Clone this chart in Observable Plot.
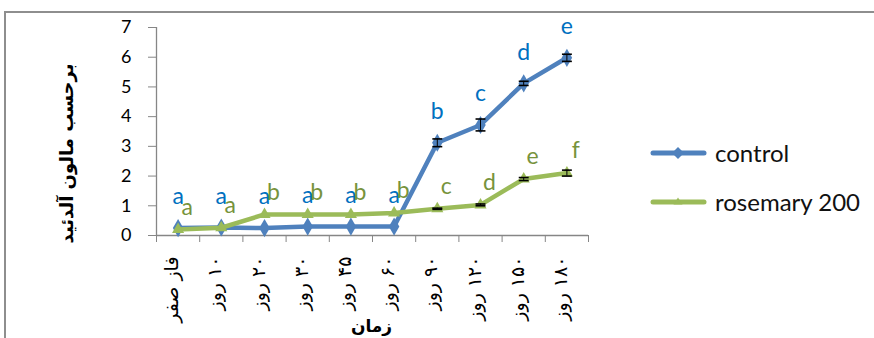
<!DOCTYPE html>
<html>
<head>
<meta charset="utf-8">
<script src="https://cdn.jsdelivr.net/npm/d3@7"></script>
<script src="https://cdn.jsdelivr.net/npm/@observablehq/plot@0.6"></script>
<style>
  html, body { margin: 0; padding: 0; background: #fff; }
  #chart { position: relative; width: 874px; height: 338px; overflow: hidden; background: #fff; }
  #frame { position: absolute; left: 4px; top: 11px; width: 2000px; height: 2000px;
           border-left: 2px solid #8e8e8e; border-top: 2px solid #8e8e8e; pointer-events: none; }
  #legend { position: absolute; left: 650px; top: 0; font-family: Lato, "Open Sans", sans-serif; font-size: 24px; color: #111; }
  .item { position: absolute; left: 0; display: flex; align-items: center; white-space: nowrap; }
  .item svg { display: block; margin-right: 7px; }
</style>
</head>
<body>
<div id="chart"><div id="frame"></div></div>
<script>
// Sampling times (x categories)
const days = ["فاز صفر", "۱۰ روز", "۲۰ روز", "۳۰ روز", "۴۵ روز", "۶۰ روز", "۹۰ روز", "۱۲۰ روز", "۱۵۰ روز", "۱۸۰ روز"];

// Series values
const control = [0.25, 0.27, 0.25, 0.30, 0.30, 0.30, 3.12, 3.72, 5.12, 5.98];
const rosemary = [0.20, 0.26, 0.71, 0.71, 0.71, 0.76, 0.90, 1.03, 1.90, 2.10];

// Standard errors (0 = no visible bar)
const controlErr = [0, 0, 0, 0, 0, 0, 0.13, 0.20, 0.07, 0.12];
const rosemaryErr = [0, 0, 0, 0, 0, 0, 0.02, 0.03, 0.05, 0.10];

// Significance letters
const controlGroups = ["a", "a", "a", "a", "a", "a", "b", "c", "d", "e"];
const rosemaryGroups = ["a", "a", "b", "b", "b", "b", "c", "d", "e", "f"];

// Axis ticks and titles
const yTicks = [0, 1, 2, 3, 4, 5, 6, 7];
const yTitle = "برحسب مالون آلدئید";
const xTitle = "زمان";
const seriesNames = ["control", "rosemary 200"];

const blue = "#4f81bd";
const green = "#9bbb59";
const axisGray = "#868686";
const latin = "Lato, 'Open Sans', sans-serif";
const arabic = "'DejaVu Sans', sans-serif";
const RLM = "\u200F"; // keeps the day number on the reading-start side

const rows = days.map((day, i) => ({
  i, day,
  control: control[i], controlErr: controlErr[i], controlGroup: controlGroups[i],
  rosemary: rosemary[i], rosemaryErr: rosemaryErr[i], rosemaryGroup: rosemaryGroups[i]
}));
const controlBars = rows.filter(d => d.controlErr > 0);
const rosemaryBars = rows.filter(d => d.rosemaryErr > 0);

// horizontal cap for error bars
const cap = {draw(ctx, size) { const w = Math.sqrt(size); ctx.moveTo(-w, 0); ctx.lineTo(w, 0); }};

const boundaries = d3.range(-0.5, days.length, 1);

function errorBars(data, key, errKey) {
  return [
    Plot.ruleX(data, {x: "i", y1: d => d[key] - d[errKey], y2: d => d[key] + d[errKey], stroke: "#000", strokeWidth: 1}),
    Plot.dot(data, {x: "i", y: d => d[key] - d[errKey], symbol: cap, r: 2.8, stroke: "#000", strokeWidth: 1.6}),
    Plot.dot(data, {x: "i", y: d => d[key] + d[errKey], symbol: cap, r: 2.8, stroke: "#000", strokeWidth: 1.6})
  ];
}

const plot = Plot.plot({
  width: 874,
  height: 338,
  marginLeft: 156,
  marginRight: 286,
  marginTop: 27,
  marginBottom: 103,
  style: {background: "transparent"},
  x: {type: "linear", domain: [-0.5, days.length - 0.5], axis: null},
  y: {domain: [0, 7], axis: null},
  marks: [
    // axes
    Plot.axisY({ticks: yTicks, tickSize: 8, tickPadding: 17, tickFormat: d3.format("d"), stroke: axisGray, fill: "#000",
                fontSize: 18, fontFamily: latin, label: null}),
    Plot.ruleX([-0.5], {stroke: axisGray, strokeWidth: 1.3}),
    Plot.axisX({ticks: boundaries, tickSize: 7, tickFormat: () => "", stroke: axisGray, label: null}),
    Plot.ruleY([0], {stroke: axisGray, strokeWidth: 1.3}),
    Plot.text(rows, {x: "i", frameAnchor: "bottom", text: d => RLM + d.day, rotate: -90, textAnchor: "end",
                     dy: 21, fontFamily: arabic, fontSize: 19, fill: "#000"}),
    Plot.text([yTitle], {frameAnchor: "left", dx: -89, dy: -68, rotate: -90, textAnchor: "end", fontFamily: arabic,
                         fontWeight: "bold", fontSize: 18, fill: "#000"}),
    Plot.text([xTitle], {frameAnchor: "bottom", dx: -1, dy: 96, fontFamily: arabic,
                         fontWeight: "bold", fontSize: 17, fill: "#000"}),

    // control series
    Plot.line(rows, {x: "i", y: "control", stroke: blue, strokeWidth: 4.5}),
    Plot.dot(rows, {x: "i", y: "control", symbol: "diamond", r: 5.5, fill: blue}),
    ...errorBars(controlBars, "control", "controlErr"),

    // rosemary series
    Plot.line(rows, {x: "i", y: "rosemary", stroke: green, strokeWidth: 4.5}),
    Plot.dot(rows, {x: "i", y: "rosemary", symbol: "triangle", r: 4.5, fill: green}),
    ...errorBars(rosemaryBars, "rosemary", "rosemaryErr"),

    // significance letters
    Plot.text(rows, {x: "i", y: "control", text: "controlGroup", dy: -31, fill: "#0070c0", fontSize: 23, fontFamily: latin}),
    Plot.text(rows, {x: "i", y: "rosemary", text: "rosemaryGroup", dx: 9, dy: -22, fill: "#77933c", fontSize: 23, fontFamily: latin})
  ]
});

const chart = document.getElementById("chart");
chart.insertBefore(plot, chart.firstChild);

// legend
const legend = document.createElement("div");
legend.id = "legend";
const swatches = [
  {name: seriesNames[0], color: blue, marker: "M28,4 L34,10 L28,16 L22,10 Z", top: 138},
  {name: seriesNames[1], color: green, marker: "M28,5.5 L32.5,12.5 L23.5,12.5 Z", top: 187}
];
for (const s of swatches) {
  const item = document.createElement("div");
  item.className = "item";
  item.style.top = s.top + "px";
  item.innerHTML = `<svg width="58" height="20" viewBox="0 0 58 20">
      <line x1="3" y1="10" x2="54" y2="10" stroke="${s.color}" stroke-width="5" stroke-linecap="round"/>
      <path d="${s.marker}" fill="${s.color}"/></svg><span>${s.name}</span>`;
  legend.appendChild(item);
}
chart.appendChild(legend);
</script>
</body>
</html>
